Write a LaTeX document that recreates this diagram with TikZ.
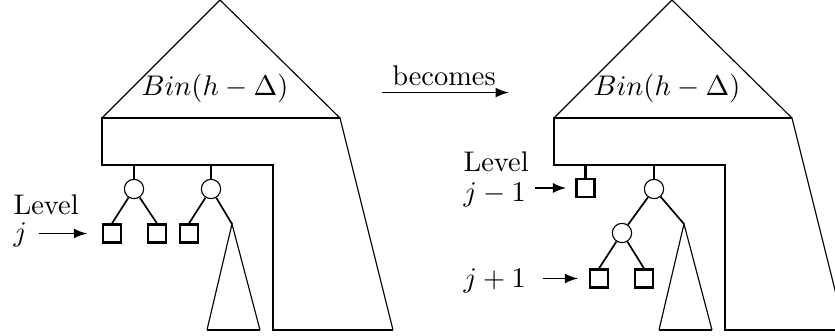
\documentclass[tikz,border=0pt]{standalone}
\usetikzlibrary{arrows,positioning}

\begin{document}
\begin{tikzpicture}[x=0.352pt,y=-0.352pt,
    inner/.style={draw,circle,minimum size=6.8pt,inner sep=0pt},
    leaf/.style={draw,thick,rectangle,minimum size=6.3pt,inner sep=0pt},
    lab/.style={inner sep=0pt,anchor=base west},
    arr/.style={-latex,semithick}]
    \clip (0,0) rectangle (835,336);
    % the two big trees
    \foreach \dx in {0,452} {
      \draw (\dx+102,118) -- (\dx+220,0) -- (\dx+340,118) -- (\dx+393,330);
      \draw[thick] (\dx+340,118) -- (\dx+102,118) -- (\dx+102,165)
        -- (\dx+273,165) -- (\dx+273,330) -- (\dx+393,330);
      \node (bin\dx) at (\dx+215,88) {$Bin(h-\Delta)$};
    }
    % before
    \node[inner] (a) at (134,189) {};
    \node[inner] (b) at (211,189) {};
    \node[leaf] (s1) at (112,233.5) {};
    \node[leaf] (s2) at (157,233.5) {};
    \node[leaf] (s3) at (189,233.5) {};
    \coordinate (t1) at (232,224);
    \draw[thick] (a.north) -- (a |- 0,165) (b.north) -- (b |- 0,165);
    \draw[semithick] (a) -- (s1.north) (a) -- (s2.north)
      (b) -- (s3.north) (b) -- (t1);
    \draw (207,330) -- (t1) -- (260,330);
    \draw[thick] (207,330) -- (260,330);
    \node[lab] (lvl1) at (13,215) {Level};
    \node[lab] (j1) at (13,242) {$j$};
    \draw[arr,shorten <=3.9pt,shorten >=5.3pt] (j1.east |- s1.west) -- (s1.west);
    % the arrow
    \node[inner xsep=3.33pt,inner ysep=2pt,anchor=base] (bec) at (444,86) {becomes};
    \draw[arr] (bec.south west) -- ([xshift=1pt]bec.south east);
    % after
    \node[leaf] (r1) at (585.5,188) {};
    \node[inner] (c) at (654,189) {};
    \node[inner] (d) at (622,233) {};
    \node[leaf] (r2) at (599,278.5) {};
    \node[leaf] (r3) at (644,278.5) {};
    \coordinate (t2) at (684,224);
    \draw[thick] (r1.north) -- (r1 |- 0,165) (c.north) -- (c |- 0,165);
    \draw[semithick] (c) -- (d) (c) -- (t2)
      (d) -- (r2.north) (d) -- (r3.north);
    \draw (659,330) -- (t2) -- (712,330);
    \draw[thick] (659,330) -- (712,330);
    \node[lab] (lvl2) at (463,172) {Level};
    \node[lab] (j2) at (463,202) {$j-1$};
    \node[lab] (j3) at (463,288) {$j+1$};
    \draw[arr,shorten <=3.2pt,shorten >=3.3pt] (j2.east |- r1.west) -- (r1.west);
    \draw[arr,shorten <=6pt,shorten >=3.9pt] (j3.east |- r2.west) -- (r2.west);
\end{tikzpicture}
\end{document}
